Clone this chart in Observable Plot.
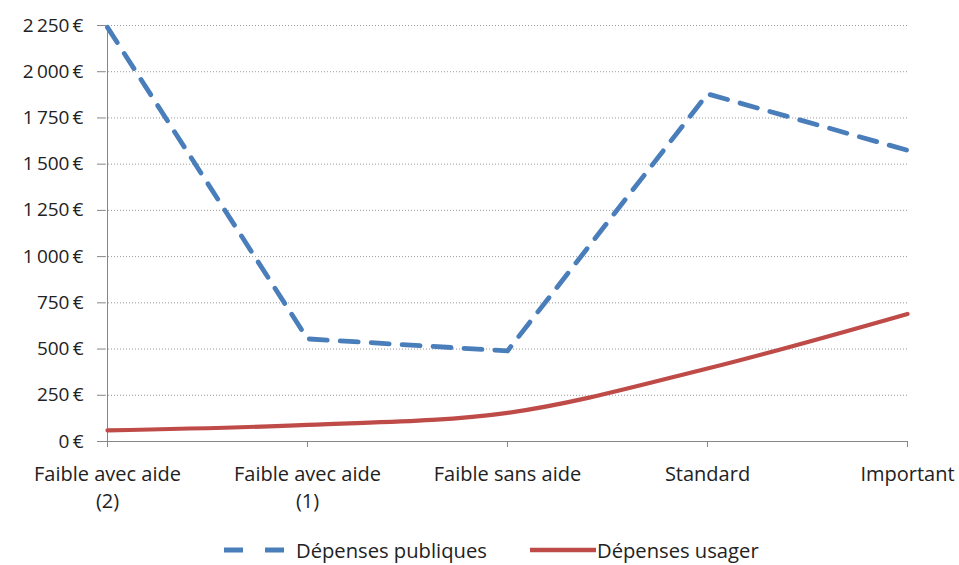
<!DOCTYPE html>
<html>
<head>
<meta charset="utf-8">
<script src="https://cdn.jsdelivr.net/npm/d3@7"></script>
<script src="https://cdn.jsdelivr.net/npm/@observablehq/plot@0.6"></script>
<style>
  body { margin: 0; background: #fff; font-family: "Open Sans", sans-serif; }
  #chart { width: 959px; position: relative; }
  #chart > svg { display: block; }
  .legend { position: relative; height: 45px; font-size: 20.2px; line-height: 22px; color: #222; }
  .legend .item { position: absolute; top: 19px; display: flex; align-items: center; height: 22px; white-space: nowrap; }
  .legend svg { margin-right: 6px; }
</style>
</head>
<body>
<div id="chart"></div>
<script>
// Categories (x axis) — "\n" splits the label onto two lines
const categories = ["Faible avec aide\n(2)", "Faible avec aide\n(1)", "Faible sans aide", "Standard", "Important"];
// Monthly spending in euros
const depensesPubliques = [2240, 555, 490, 1880, 1575];
const depensesUsager = [60, 90, 155, 395, 690];
const yTicks = [0, 250, 500, 750, 1000, 1250, 1500, 1750, 2000, 2250];
const seriesNames = ["Dépenses publiques", "Dépenses usager"];
const seriesColors = ["#4A7EBB", "#BE4B48"];

const pub = categories.map((c, i) => ({cat: c, value: depensesPubliques[i]}));
const usr = categories.map((c, i) => ({cat: c, value: depensesUsager[i]}));

const euro = d => d3.format(",")(d).replace(/,/g, "\u2009") + "\u2009€";

const chart = Plot.plot({
  width: 959,
  height: 520,
  marginLeft: 105,
  marginRight: 51,
  marginTop: 25,
  marginBottom: 79,
  style: {fontFamily: "'Open Sans', sans-serif", fontSize: "20px", color: "#222", background: "#fff"},
  x: {type: "point", domain: categories, padding: 0},
  y: {domain: [0, 2250]},
  marks: [
    Plot.gridY(yTicks, {stroke: "#9a9a9a", strokeOpacity: 1, strokeDasharray: "1,2"}),
    Plot.axisY(yTicks, {tickSize: 8, tickPadding: 14, tickFormat: euro, stroke: "#868686", fill: "#222", label: null, fontSize: 19}),
    Plot.axisX({tickSize: 6, tickPadding: 14, stroke: "#868686", fill: "#222", label: null, fontSize: 20, lineHeight: 1.35}),
    Plot.ruleX([categories[0]], {y1: 0, y2: 2250, stroke: "#868686"}),
    Plot.ruleY([0], {stroke: "#868686"}),
    Plot.line(usr, {x: "cat", y: "value", stroke: seriesColors[1], strokeWidth: 4.2, curve: "catmull-rom"}),
    Plot.line(pub, {x: "cat", y: "value", stroke: seriesColors[0], strokeWidth: 4.8, strokeDasharray: "18,13"})
  ]
});
document.getElementById("chart").appendChild(chart);

// Legend below the plot
const legend = document.createElement("div");
legend.className = "legend";
legend.innerHTML = `
  <div class="item" style="left:222px"><svg width="68" height="10"><line x1="2" y1="5" x2="66" y2="5" stroke="${seriesColors[0]}" stroke-width="5" stroke-dasharray="19,22"/></svg>${seriesNames[0]}</div>
  <div class="item" style="left:530px"><svg width="67" height="10" style="margin-right:0"><line x1="0" y1="5" x2="66" y2="5" stroke="${seriesColors[1]}" stroke-width="4.5"/></svg>${seriesNames[1]}</div>`;
document.getElementById("chart").appendChild(legend);
</script>
</body>
</html>
